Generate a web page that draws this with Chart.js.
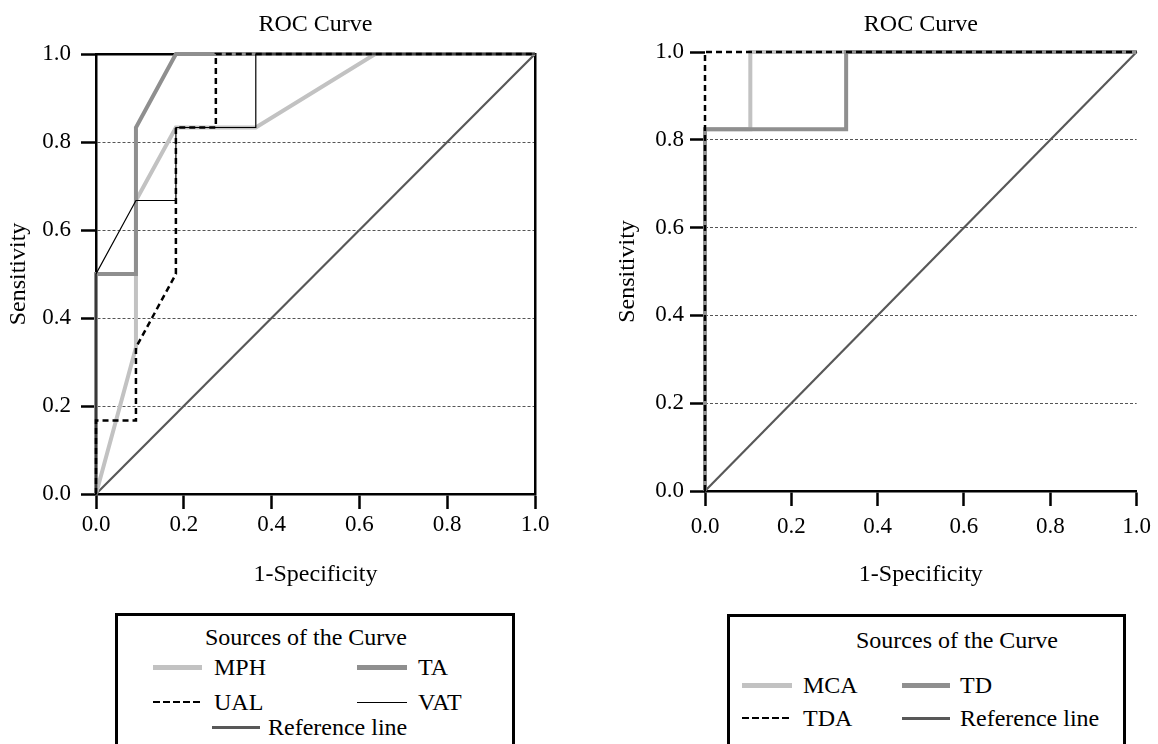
<!DOCTYPE html>
<html>
<head>
<meta charset="utf-8">
<script src="https://cdn.jsdelivr.net/npm/chart.js@4.4.1/dist/chart.umd.min.js"></script>
<style>
  html, body { margin: 0; padding: 0; background: #fff; overflow: hidden; }
  body { width: 1158px; height: 744px; position: relative; font-family: "Liberation Serif", "Times New Roman", serif; }
  canvas { position: absolute; top: 0; }
  #leftChart { left: 0; }
  #rightChart { left: 600px; }
  .legend-box { position: absolute; border: 3px solid #000; box-sizing: border-box; }
  .legend-title, .legend-item { position: absolute; height: 30px; line-height: 30px; font-size: 24px; color: #000; white-space: nowrap; }
  .legend-title { text-align: center; }
  .legend-item { display: flex; align-items: center; }
</style>
</head>
<body>
<canvas id="leftChart" width="580" height="610"></canvas>
<canvas id="rightChart" width="558" height="610"></canvas>
<script>
// shared axis ticks
const tickValues = [0, 0.2, 0.4, 0.6, 0.8, 1.0];
const tickLabels = ['0.0', '0.2', '0.4', '0.6', '0.8', '1.0'];

// left panel: 1-specificity (x) / sensitivity (y)
const fprMPH = [0, 0.091, 0.091, 0.182, 0.364, 0.636, 1];
const tprMPH = [0, 0.333, 0.667, 0.833, 0.833, 1, 1];
const fprTA = [0, 0, 0.091, 0.091, 0.182, 1];
const tprTA = [0, 0.5, 0.5, 0.833, 1, 1];
const fprUAL = [0, 0, 0.091, 0.091, 0.182, 0.182, 0.273, 0.273, 1];
const tprUAL = [0, 0.167, 0.167, 0.333, 0.5, 0.833, 0.833, 1, 1];
const fprVAT = [0, 0, 0.091, 0.182, 0.182, 0.364, 0.364, 1];
const tprVAT = [0, 0.5, 0.667, 0.667, 0.833, 0.833, 1, 1];

// right panel
const fprMCA = [0, 0, 0.105, 0.105, 1];
const tprMCA = [0, 0.824, 0.824, 1, 1];
const fprTD = [0, 0, 0.327, 0.327, 1];
const tprTD = [0, 0.824, 0.824, 1, 1];
const fprTDA = [0, 0, 1];
const tprTDA = [0, 1, 1];

// diagonal
const refFpr = [0, 1];
const refTpr = [0, 1];

const leftLegendNames = ['MPH', 'TA', 'UAL', 'VAT', 'Reference line'];
const rightLegendNames = ['MCA', 'TD', 'TDA', 'Reference line'];

const serif = '"Liberation Serif", "Times New Roman", serif';

const lightGray = { color: '#c2c2c2', width: 4, dash: [], swatch: 5 };
const midGray = { color: '#8f8f8f', width: 4, dash: [], swatch: 5 };
const dashed = { color: '#000', width: 2.5, dash: [6, 4], swatch: 2 };
const thin = { color: '#000', width: 1.2, dash: [], swatch: 1 };
const refStyle = { color: '#585858', width: 2.2, dash: [], swatch: 3 };

const styleOf = {
    'MPH': lightGray, 'TA': midGray, 'UAL': dashed, 'VAT': thin,
    'MCA': lightGray, 'TD': midGray, 'TDA': dashed, 'Reference line': refStyle
};

function points(fpr, tpr) {
    return fpr.map((x, i) => ({ x: x, y: tpr[i] }));
}

function lineSet(label, fpr, tpr, order) {
    const st = styleOf[label];
    return {
        label: label,
        data: points(fpr, tpr),
        showLine: true,
        borderColor: st.color,
        borderWidth: st.width,
        borderDash: st.dash,
        borderCapStyle: 'butt',
        borderJoinStyle: 'miter',
        pointRadius: 0,
        pointHoverRadius: 0,
        fill: false,
        tension: 0,
        clip: false,
        order: order
    };
}

function xAxis(labelPad, height) {
    return {
        type: 'linear', position: 'bottom', min: 0, max: 1,
        afterBuildTicks: s => { s.ticks = tickValues.map(v => ({ value: v })); },
        afterFit: s => { s.height = height; },
        ticks: {
            callback: (v, i) => tickLabels[i],
            font: { family: serif, size: 23 }, color: '#000',
            padding: labelPad, maxRotation: 0, autoSkip: false
        },
        grid: { drawOnChartArea: false, color: '#000', tickColor: '#000', tickWidth: 2.5, tickLength: 15 },
        border: { display: true, color: '#000', width: 2.5 },
        title: {
            display: true, text: '1-Specificity',
            font: { family: serif, size: 24 }, color: '#000',
            padding: { top: 0, bottom: 20.6 }
        }
    };
}

function yAxis(labelPad, width, titlePad, showBorder) {
    return {
        type: 'linear', position: 'left', min: 0, max: 1,
        afterBuildTicks: s => { s.ticks = tickValues.map(v => ({ value: v })); },
        afterFit: s => { s.width = width; },
        ticks: {
            callback: (v, i) => tickLabels[i],
            font: { family: serif, size: 23 }, color: '#000',
            padding: labelPad, autoSkip: false
        },
        grid: {
            // dashed lines only at the inner ticks
            color: c => (c.tick && c.tick.value > 0.01 && c.tick.value < 0.99) ? '#555' : 'rgba(0,0,0,0)',
            lineWidth: 1, tickColor: '#000', tickWidth: 2.5, tickLength: 15
        },
        border: { display: showBorder, color: '#000', width: 2.5, dash: [3, 2] },
        title: {
            display: true, text: 'Sensitivity',
            font: { family: serif, size: 24 }, color: '#000',
            padding: { top: titlePad, bottom: 0 }
        }
    };
}

function frameAxis(position, size) {
    return {
        type: 'linear', position: position, min: 0, max: 1,
        ticks: { display: false },
        grid: { display: false },
        border: { display: true, color: '#000', width: 2.5 },
        afterFit: s => {
            if (position === 'top') s.height = size; else s.width = size;
        }
    };
}

function titleOpts(bottomPad) {
    return {
        display: true, text: 'ROC Curve', fullSize: false,
        font: { family: serif, size: 24, weight: 'normal' }, color: '#000',
        padding: { top: 10.6, bottom: bottomPad }
    };
}

new Chart(document.getElementById('leftChart'), {
    type: 'scatter',
    data: {
        datasets: [
            lineSet('VAT', fprVAT, tprVAT, 1),
            lineSet('UAL', fprUAL, tprUAL, 2),
            lineSet('TA', fprTA, tprTA, 3),
            lineSet('MPH', fprMPH, tprMPH, 4),
            lineSet('Reference line', refFpr, refTpr, 5)
        ]
    },
    options: {
        responsive: false,
        animation: false,
        devicePixelRatio: 1,
        layout: { padding: 0 },
        plugins: {
            legend: { display: false },
            tooltip: { enabled: false },
            title: titleOpts(13.6)
        },
        scales: {
            x: xAxis(2, 116),
            y: yAxis(10, 96, 4.6, true),
            x2: frameAxis('top', 1),
            y2: frameAxis('right', 45)
        }
    }
});

new Chart(document.getElementById('rightChart'), {
    type: 'scatter',
    data: {
        datasets: [
            lineSet('TDA', fprTDA, tprTDA, 1),
            lineSet('TD', fprTD, tprTD, 2),
            lineSet('MCA', fprMCA, tprMCA, 3),
            lineSet('Reference line', refFpr, refTpr, 4)
        ]
    },
    options: {
        responsive: false,
        animation: false,
        devicePixelRatio: 1,
        layout: { padding: { right: 16 } },
        plugins: {
            legend: { display: false },
            tooltip: { enabled: false },
            title: titleOpts(12.6)
        },
        scales: {
            x: xAxis(7, 119),
            y: yAxis(6, 105, 13.6, false)
        }
    }
});

// Boxed legends below the charts
function swatch(st, w) {
    const s = document.createElement('span');
    s.style.display = 'inline-block';
    s.style.width = w + 'px';
    s.style.height = st.swatch + 'px';
    if (st.dash.length) {
        s.style.background = 'repeating-linear-gradient(90deg, ' + st.color + ' 0 7px, transparent 7px 10px)';
    } else {
        s.style.background = st.color;
    }
    return s;
}

function buildLegend(box, title, names, slots) {
    const b = document.createElement('div');
    b.className = 'legend-box';
    Object.assign(b.style, { left: box.x + 'px', top: box.y + 'px', width: box.w + 'px', height: box.h + 'px' });
    document.body.appendChild(b);

    const t = document.createElement('div');
    t.className = 'legend-title';
    t.textContent = 'Sources of the Curve';
    Object.assign(t.style, { left: (title.cx - 200) + 'px', width: '400px', top: (title.cy - 15) + 'px' });
    document.body.appendChild(t);

    names.forEach((name, i) => {
        const slot = slots[i];
        const item = document.createElement('div');
        item.className = 'legend-item';
        item.style.left = slot.x + 'px';
        item.style.top = (slot.y - 15) + 'px';
        item.appendChild(swatch(styleOf[name], slot.w));
        const label = document.createElement('span');
        label.textContent = name;
        label.style.marginLeft = slot.gap + 'px';
        item.appendChild(label);
        document.body.appendChild(item);
    });
}

buildLegend({ x: 115, y: 613, w: 400, h: 200 }, { cx: 306, cy: 637 }, leftLegendNames, [
    { x: 153, y: 667, w: 49, gap: 12 },
    { x: 357, y: 667, w: 50, gap: 11 },
    { x: 153, y: 702, w: 49, gap: 12 },
    { x: 357, y: 702, w: 50, gap: 11 },
    { x: 212, y: 727, w: 48, gap: 8 }
]);

buildLegend({ x: 727, y: 614, w: 399, h: 200 }, { cx: 957, cy: 640 }, rightLegendNames, [
    { x: 742, y: 685, w: 50, gap: 11 },
    { x: 902, y: 685, w: 48, gap: 10 },
    { x: 742, y: 718, w: 50, gap: 11 },
    { x: 902, y: 718, w: 48, gap: 10 }
]);
</script>
</body>
</html>
